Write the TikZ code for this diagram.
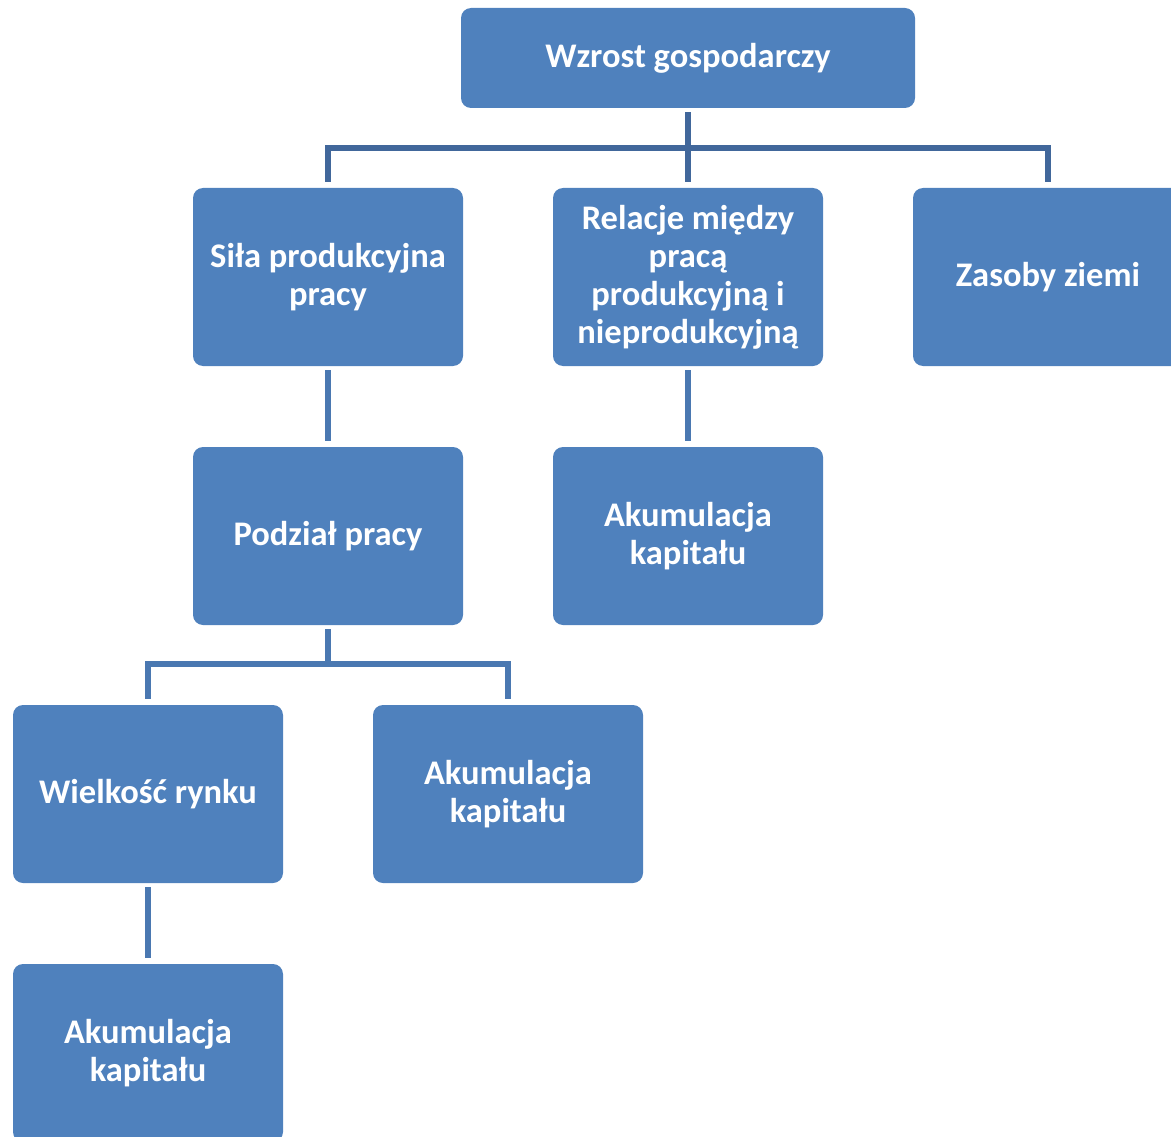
\documentclass[tikz,border=0pt]{standalone}
\usepackage{fontspec}
\setmainfont{Carlito}
\begin{document}
\begin{tikzpicture}[x=1pt,y=-1pt,
  box/.style={rectangle, rounded corners=10pt, fill=boxblue, draw=none,
    minimum width=270pt, minimum height=178pt, text=white, align=center,
    font=\fontsize{34.5pt}{38pt}\selectfont\bfseries, inner sep=0pt},
  topbox/.style={box, minimum width=454pt, minimum height=100pt},
  link/.style={draw=linkblue, line width=5.5pt},
  toplink/.style={draw=topblue, line width=5.5pt}]
\definecolor{boxblue}{HTML}{4F81BD}
\definecolor{linkblue}{HTML}{4A78B1}
\definecolor{topblue}{HTML}{41679B}
\useasboundingbox (0,0) rectangle (1171,1137);
\clip (0,0) rectangle (1171,1137);

% boxes
\node[topbox] (wzrost) at (688,58) {Wzrost gospodarczy};
\node[box] (sila) at (328,277) {Siła produkcyjna\\pracy};
\node[box] (relacje) at (688,277) {Relacje między\\pracą\\produkcyjną i\\nieprodukcyjną};
\node[box] (zasoby) at (1048,277) {Zasoby ziemi};
\node[box] (podzial) at (328,536) {Podział pracy};
\node[box] (akum1) at (688,536) {Akumulacja\\kapitału};
\node[box] (wielkosc) at (148,794) {Wielkość rynku};
\node[box] (akum2) at (508,794) {Akumulacja\\kapitału};
\node[box] (akum3) at (148,1053) {Akumulacja\\kapitału};

% branch points
\coordinate (top-fork) at (688,148);
\coordinate (mid-fork) at (328,664);

% connectors from the top box
\draw[toplink] ([yshift=-4pt]wzrost.south) -- ([yshift=6pt]relacje.north);
\draw[toplink] ([yshift=6pt]sila.north) |- (top-fork) -| ([yshift=6pt]zasoby.north);

% single links
\draw[link] ([yshift=-4pt]sila.south) -- ([yshift=6pt]podzial.north);
\draw[link] ([yshift=-4pt]relacje.south) -- ([yshift=6pt]akum1.north);
\draw[link] ([yshift=-4pt]wielkosc.south) -- ([yshift=6pt]akum3.north);

% fork below "Podział pracy"
\draw[link] ([yshift=-4pt]podzial.south) -- (mid-fork);
\draw[link] ([yshift=6pt]wielkosc.north) |- (mid-fork) -| ([yshift=6pt]akum2.north);
\end{tikzpicture}
\end{document}
